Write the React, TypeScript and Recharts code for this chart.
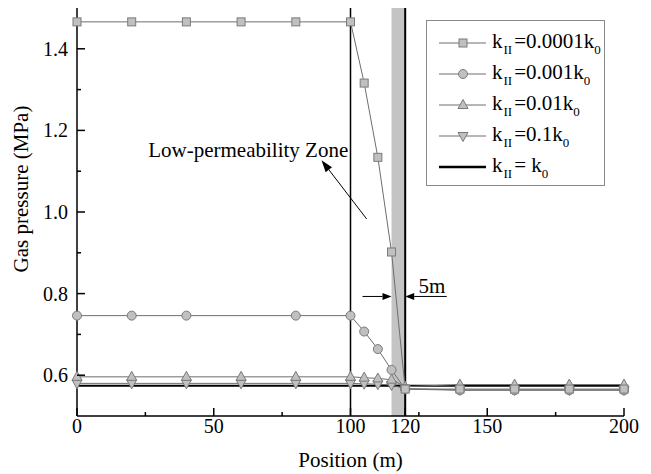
import {
  ComposedChart,
  Line,
  XAxis,
  YAxis,
  ReferenceLine,
  ReferenceArea,
  ReferenceDot,
  Legend,
} from 'recharts';

// Gas pressure along the roadway for different permeabilities of zone II
const positions = [0, 20, 40, 60, 80, 100, 105, 110, 115, 120, 140, 160, 180, 200];
const k0001 = [1.466, 1.466, 1.466, 1.466, 1.466, 1.466, 1.316, 1.134, 0.902, 0.566, 0.566, 0.566, 0.566, 0.566];
const k001 = [0.746, 0.746, 0.746, null, 0.746, 0.746, 0.707, 0.664, 0.613, 0.566, 0.563, 0.563, 0.563, 0.563];
const k01 = [0.596, 0.596, 0.596, 0.596, 0.596, 0.596, 0.594, 0.592, 0.589, 0.572, 0.577, 0.577, 0.577, 0.577];
const k1 = [0.58, 0.58, 0.58, 0.58, 0.58, 0.58, 0.579, 0.578, 0.576, 0.567, 0.564, 0.564, 0.564, 0.564];
const kBase = [0.574, 0.574, 0.574, 0.574, 0.574, 0.574, 0.574, 0.574, 0.574, 0.574, 0.574, 0.574, 0.574, 0.574];

const xTicks = [0, 25, 50, 75, 100, 120, 125, 150, 175, 200];
const xMajor = [0, 50, 100, 120, 150, 200];
const yTicks = [0.6, 0.7, 0.8, 0.9, 1.0, 1.1, 1.2, 1.3, 1.4];
const yMajor = [0.6, 0.8, 1.0, 1.2, 1.4];

const legendItems = [
  { key: 'k0001', coef: '=0.0001k', shape: 'square' },
  { key: 'k001', coef: '=0.001k', shape: 'circle' },
  { key: 'k01', coef: '=0.01k', shape: 'triangle' },
  { key: 'k1', coef: '=0.1k', shape: 'down' },
  { key: 'kBase', coef: '= k', shape: 'solid' },
];

const data = positions.map((x, i) => ({
  x,
  k0001: k0001[i],
  k001: k001[i],
  k01: k01[i],
  k1: k1[i],
  kBase: kBase[i],
}));

const FONT = 'Liberation Serif, DejaVu Serif, serif';
const MARK_FILL = '#c0c0c0';
const MARK_STROKE = '#7a7a7a';
const LINE = '#6e6e6e';

function Marker({ shape, cx, cy }: { shape: string; cx: number; cy: number }) {
  if (shape === 'square') {
    return <rect x={cx - 4} y={cy - 4} width={8} height={8} fill={MARK_FILL} stroke={MARK_STROKE} />;
  }
  if (shape === 'circle') {
    return <circle cx={cx} cy={cy} r={4.5} fill={MARK_FILL} stroke={MARK_STROKE} />;
  }
  if (shape === 'triangle') {
    return (
      <polygon
        points={`${cx},${cy - 5.5} ${cx + 5},${cy + 3.5} ${cx - 5},${cy + 3.5}`}
        fill={MARK_FILL}
        stroke={MARK_STROKE}
      />
    );
  }
  if (shape === 'down') {
    return (
      <polygon
        points={`${cx},${cy + 5.5} ${cx + 5},${cy - 3.5} ${cx - 5},${cy - 3.5}`}
        fill={MARK_FILL}
        stroke={MARK_STROKE}
      />
    );
  }
  return null;
}

const makeDot = (shape: string) => (props: any) => {
  const { cx, cy, index } = props;
  if (cx == null || cy == null || props.value == null) return <g key={`${shape}-${index}`} />;
  return (
    <g key={`${shape}-${index}`}>
      <Marker shape={shape} cx={cx} cy={cy} />
    </g>
  );
};

function XTick(props: any) {
  const { x, y, payload } = props;
  const major = xMajor.includes(payload.value);
  return (
    <g>
      <line x1={x} x2={x} y1={y} y2={y - (major ? 8 : 4)} stroke="#000" strokeWidth={1.5} />
      {major && (
        <text x={x} y={y + 17} textAnchor="middle" fontSize={20} fontFamily={FONT} fill="#000">
          {payload.value}
        </text>
      )}
    </g>
  );
}

function YTick(props: any) {
  const { x, y, payload } = props;
  const major = yMajor.some(v => Math.abs(v - payload.value) < 1e-6);
  return (
    <g>
      <line x1={x} x2={x + (major ? 8 : 4)} y1={y} y2={y} stroke="#000" strokeWidth={1.5} />
      {major && (
        <text x={x - 9} y={y + 7} textAnchor="end" fontSize={20} fontFamily={FONT} fill="#000">
          {payload.value.toFixed(1)}
        </text>
      )}
    </g>
  );
}

function Arrow(props: any) {
  const { x1, y1, x2, y2, head, half } = props;
  const dx = x2 - x1;
  const dy = y2 - y1;
  const len = Math.hypot(dx, dy) || 1;
  const ux = dx / len;
  const uy = dy / len;
  const bx = x2 - ux * head;
  const by = y2 - uy * head;
  const px = -uy * half;
  const py = ux * half;
  return (
    <g>
      <line x1={x1} y1={y1} x2={bx} y2={by} stroke="#000" strokeWidth={1} />
      <polygon points={`${x2},${y2} ${bx + px},${by + py} ${bx - px},${by - py}`} fill="#000" />
    </g>
  );
}

function LegendIcon({ shape }: { shape: string }) {
  return (
    <svg width={48} height={16} style={{ display: 'block' }}>
      {shape === 'solid' ? (
        <line x1={0} x2={47} y1={8} y2={8} stroke="#000" strokeWidth={2.5} />
      ) : (
        <>
          <line x1={0} x2={47} y1={8} y2={8} stroke={LINE} strokeWidth={1} />
          <Marker shape={shape} cx={24} cy={8} />
        </>
      )}
    </svg>
  );
}

function LegendBox() {
  const sub = { fontSize: 13, position: 'relative' as const, top: 6, margin: '0 2px 0 1px' };
  return (
    <div
      style={{
        width: 179,
        height: 166,
        border: '1px solid #8a8a8a',
        background: '#fff',
        paddingTop: 6,
        boxSizing: 'border-box',
        fontFamily: FONT,
      }}
    >
      {legendItems.map(item => (
        <div key={item.key} style={{ display: 'flex', alignItems: 'center', height: 31, paddingLeft: 12 }}>
          <LegendIcon shape={item.shape} />
          <span style={{ fontSize: 21, marginLeft: 5, whiteSpace: 'nowrap', lineHeight: '21px' }}>
            k<span style={sub}>II</span>
            {item.coef}
            <span style={{ ...sub, margin: 0 }}>0</span>
          </span>
        </div>
      ))}
    </div>
  );
}

export default function App() {
  return (
    <div
      style={{
        position: 'absolute',
        left: 0,
        top: 0,
        width: 651,
        height: 474,
        background: '#fff',
        fontFamily: FONT,
      }}
    >
      <ComposedChart
        width={651}
        height={474}
        data={data}
        margin={{ top: 8, right: 27, bottom: 0, left: 0 }}
        style={{ fontFamily: FONT }}
      >
        <XAxis
          dataKey="x"
          type="number"
          domain={[0, 200]}
          ticks={xTicks}
          interval={0}
          height={58}
          tickSize={0}
          tickMargin={0}
          tickLine={false}
          tick={<XTick />}
          axisLine={{ stroke: '#000', strokeWidth: 1.5 }}
          label={{ value: 'Position (m)', position: 'insideBottom', offset: 7, fontSize: 21, fontFamily: FONT, fill: '#000' }}
        />
        <XAxis
          xAxisId="top"
          orientation="top"
          type="number"
          domain={[0, 200]}
          height={0}
          tick={false}
          tickLine={false}
          axisLine={{ stroke: '#000', strokeWidth: 1.5 }}
        />
        <YAxis
          type="number"
          domain={[0.5, 1.5]}
          ticks={yTicks}
          interval={0}
          width={77}
          tickSize={0}
          tickMargin={0}
          tickLine={false}
          tick={<YTick />}
          axisLine={{ stroke: '#000', strokeWidth: 1.5 }}
          label={{
            value: 'Gas pressure (MPa)',
            angle: -90,
            position: 'insideLeft',
            offset: 21,
            dy: -23,
            fontSize: 21,
            fontFamily: FONT,
            fill: '#000',
            style: { textAnchor: 'middle' },
          }}
        />
        <YAxis
          yAxisId="right"
          orientation="right"
          type="number"
          domain={[0.5, 1.5]}
          width={0}
          tick={false}
          tickLine={false}
          axisLine={{ stroke: '#000', strokeWidth: 1.5 }}
        />
        <ReferenceArea x1={115} x2={120} y1={0.5} y2={1.5} fill="#c4c4c4" fillOpacity={1} stroke="none" />
        <ReferenceLine x={100} stroke="#000" strokeWidth={1.5} />
        <ReferenceLine x={120} stroke="#000" strokeWidth={2} />
        <ReferenceLine
          segment={[{ x: 105.9, y: 0.983 }, { x: 89.4, y: 1.127 }]}
          shape={(p: any) => <Arrow {...p} head={12} half={4} />}
        />
        <ReferenceLine
          segment={[{ x: 104.4, y: 0.793 }, { x: 115, y: 0.793 }]}
          shape={(p: any) => <Arrow {...p} head={9} half={3.5} />}
        />
        <ReferenceLine
          segment={[{ x: 135.2, y: 0.793 }, { x: 120, y: 0.793 }]}
          shape={(p: any) => <Arrow {...p} head={9} half={3.5} />}
        />
        <ReferenceDot
          x={62.6}
          y={1.154}
          r={0}
          fill="none"
          stroke="none"
          label={{ value: 'Low-permeability Zone', position: 'center', fontSize: 21, fontFamily: FONT, fill: '#000' }}
        />
        <ReferenceDot
          x={129.8}
          y={0.82}
          r={0}
          fill="none"
          stroke="none"
          label={{ value: '5m', position: 'center', fontSize: 21, fontFamily: FONT, fill: '#000' }}
        />
        <Line
          dataKey="kBase"
          stroke="#000"
          strokeWidth={2}
          dot={false}
          isAnimationActive={false}
        />
        <Line
          dataKey="k1"
          stroke={LINE}
          strokeWidth={1}
          dot={makeDot('down')}
          activeDot={false}
          isAnimationActive={false}
        />
        <Line
          dataKey="k01"
          stroke={LINE}
          strokeWidth={1}
          dot={makeDot('triangle')}
          activeDot={false}
          isAnimationActive={false}
        />
        <Line
          dataKey="k001"
          stroke={LINE}
          strokeWidth={1}
          connectNulls
          dot={makeDot('circle')}
          activeDot={false}
          isAnimationActive={false}
        />
        <Line
          dataKey="k0001"
          stroke={LINE}
          strokeWidth={1}
          dot={makeDot('square')}
          activeDot={false}
          isAnimationActive={false}
        />
        <Legend
          layout="vertical"
          align="center"
          verticalAlign="middle"
          wrapperStyle={{ left: 426, top: 20, width: 180, height: 166 }}
          content={() => <LegendBox />}
        />
      </ComposedChart>
    </div>
  );
}
